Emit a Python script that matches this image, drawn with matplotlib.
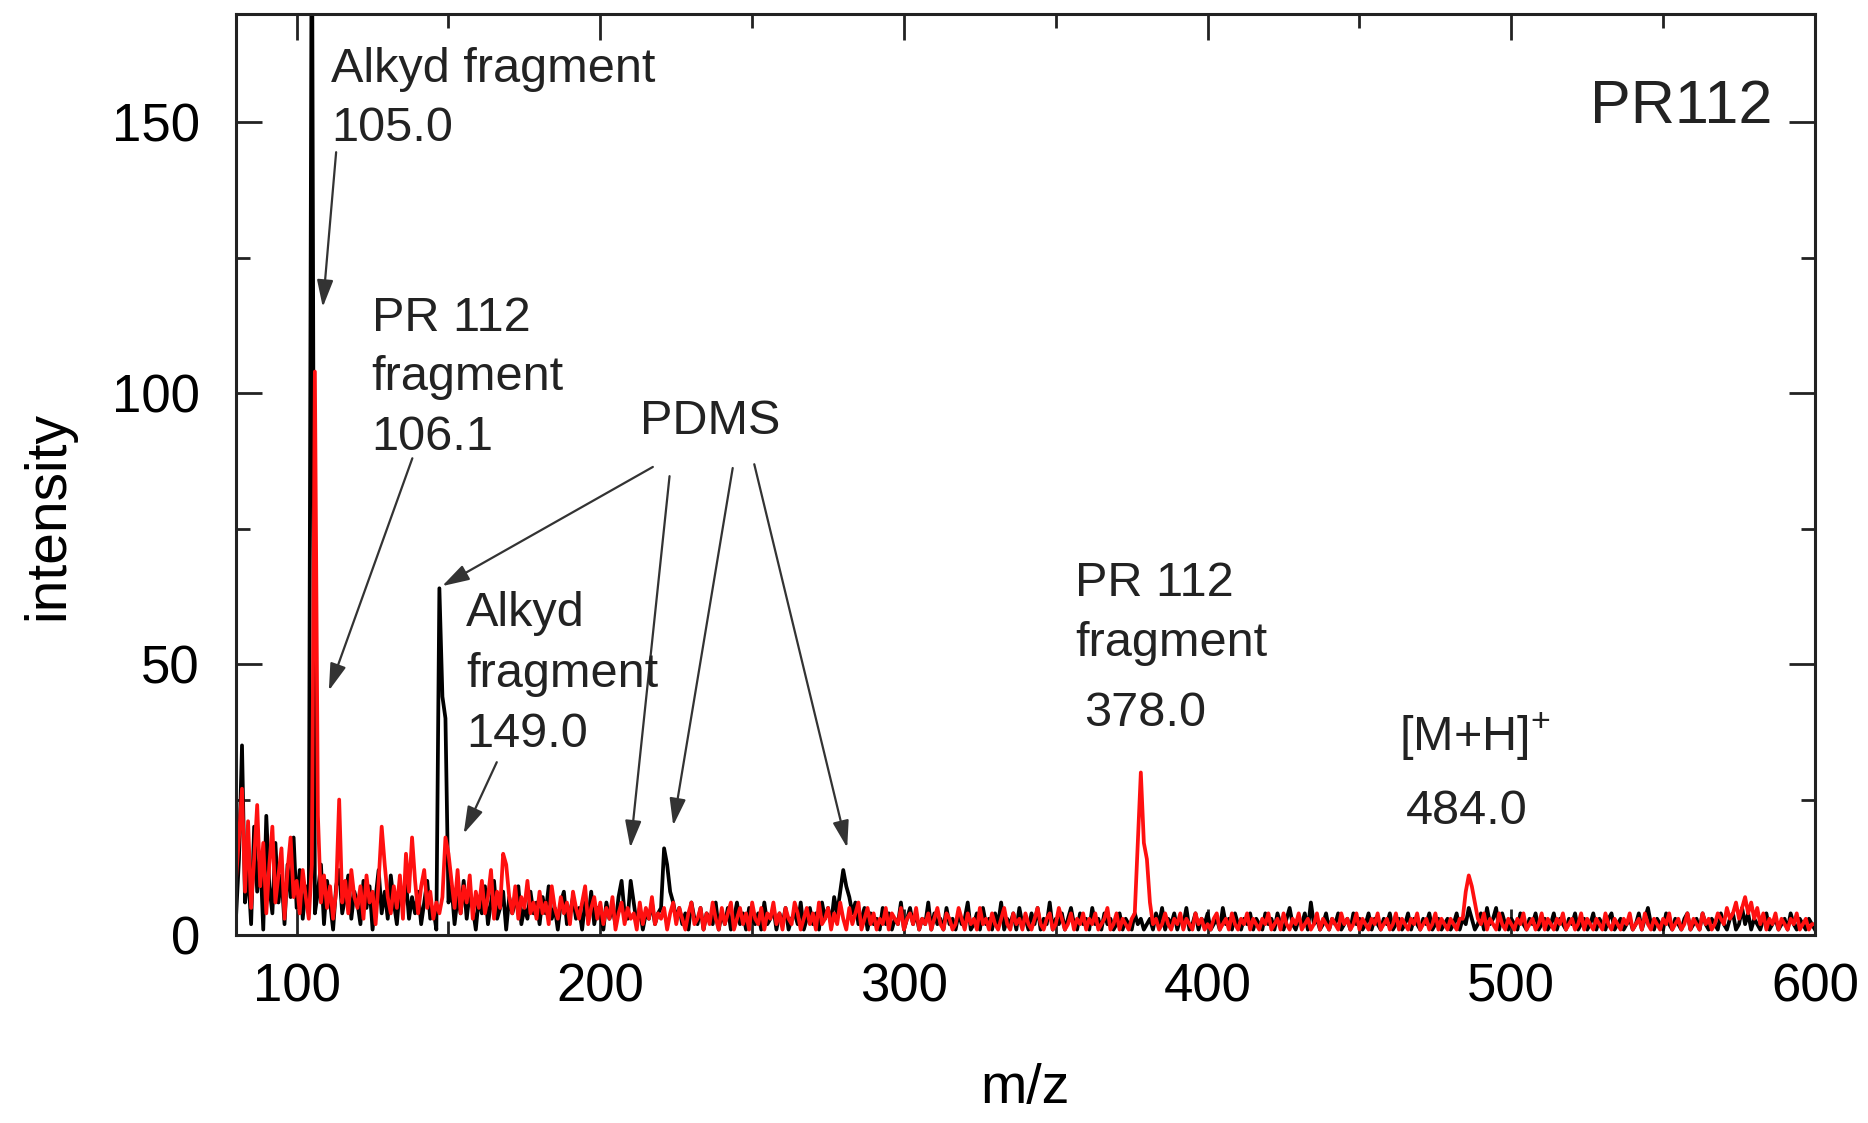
from matplotlib import pyplot as plt
from matplotlib.ticker import MultipleLocator
import matplotlib
import numpy as np

matplotlib.use("Agg")
matplotlib.rcParams.update({
    'font.family': ['Liberation Sans', 'DejaVu Sans'],
    'mathtext.fontset': 'custom',
    'mathtext.rm': 'Liberation Sans',
    'text.color': '#222222',
})

#m/z grid, one point per unit, 80..600
mz_start = 80
mz_stop = 600

#black spectrum (intensity per m/z unit)
black = [
    3, 14, 35, 6, 12, 2, 20, 8, 15, 1, 22, 9, 4, 17, 6, 11, 2, 13, 7, 18,
    5, 12, 3, 9, 6, 200, 4, 8, 13, 2, 10, 6, 1, 9, 12, 4, 7, 11, 3, 8,
    6, 2, 10, 5, 9, 1, 7, 12, 4, 8, 3, 11, 6, 2, 9, 5, 10, 3, 7, 4,
    8, 2, 6, 10, 3, 5, 1, 64, 44, 40, 6, 9, 2, 7, 4, 10, 3, 8, 5, 1,
    7, 4, 9, 2, 6, 10, 3, 5, 8, 1, 7, 4, 6, 9, 2, 5, 3, 8, 4, 6,
    2, 7, 4, 9, 3, 5, 1, 6, 8, 2, 4, 7, 3, 5, 1, 6, 3, 8, 2, 5,
    4, 1, 6, 3, 5, 2, 7, 10, 4, 3, 10, 6, 2, 5, 1, 4, 3, 6, 2, 4,
    5, 16, 13, 8, 6, 3, 5, 2, 4, 1, 6, 3, 2, 5, 1, 4, 3, 2, 6, 1,
    4, 2, 5, 1, 3, 6, 2, 4, 1, 5, 3, 2, 4, 1, 6, 2, 3, 5, 1, 4,
    2, 5, 1, 3, 4, 2, 6, 1, 3, 5, 2, 4, 1, 6, 3, 5, 2, 7, 4, 8,
    12, 9, 7, 4, 6, 2, 3, 5, 1, 4, 2, 3, 1, 5, 2, 4, 1, 3, 2, 6,
    1, 3, 5, 2, 4, 1, 3, 2, 6, 1, 4, 2, 3, 1, 5, 2, 3, 1, 4, 2,
    3, 6, 1, 2, 4, 1, 5, 2, 3, 1, 4, 2, 6, 1, 3, 2, 4, 1, 5, 2,
    3, 1, 4, 2, 5, 1, 3, 2, 6, 1, 3, 2, 4, 1, 3, 5, 2, 1, 4, 2,
    3, 1, 5, 2, 3, 1, 4, 2, 3, 1, 2, 4, 1, 3, 2, 1, 4, 2, 3, 1,
    2, 3, 1, 4, 2, 5, 1, 3, 2, 4, 1, 3, 2, 5, 1, 2, 4, 1, 3, 2,
    4, 1, 2, 3, 1, 5, 2, 3, 1, 4, 2, 1, 3, 2, 4, 1, 3, 2, 1, 4,
    2, 3, 1, 4, 2, 1, 3, 5, 2, 1, 3, 2, 4, 1, 6, 2, 3, 1, 2, 4,
    1, 3, 2, 4, 1, 2, 3, 1, 4, 2, 3, 1, 2, 4, 1, 3, 2, 1, 3, 2,
    4, 1, 2, 3, 1, 2, 4, 1, 3, 2, 1, 3, 2, 4, 1, 2, 3, 1, 2, 3,
    1, 2, 4, 1, 3, 2, 5, 3, 1, 2, 4, 1, 5, 2, 3, 5, 1, 4, 2, 1,
    3, 2, 1, 4, 2, 1, 3, 2, 4, 1, 2, 3, 1, 2, 4, 1, 3, 2, 1, 3,
    2, 4, 1, 2, 3, 1, 2, 4, 1, 3, 2, 1, 3, 4, 1, 2, 3, 1, 2, 3,
    1, 2, 4, 1, 3, 5, 2, 1, 3, 2, 1, 4, 2, 1, 3, 2, 1, 3, 4, 1,
    2, 3, 1, 4, 2, 1, 3, 2, 1, 4, 2, 1, 3, 4, 1, 2, 5, 2, 4, 1,
    3, 2, 1, 3, 4, 1, 2, 3, 1, 2, 3, 1, 4, 2, 1, 3, 2, 1, 3, 2,
    1,
]

#red spectrum
red = [
    10, 18, 27, 8, 21, 5, 14, 24, 9, 17, 4, 13, 20, 6, 11, 16, 3, 12, 18, 7,
    10, 4, 12, 7, 3, 13, 104, 22, 6, 11, 5, 9, 3, 8, 25, 6, 10, 4, 12, 7,
    5, 9, 3, 11, 6, 8, 2, 10, 20, 13, 7, 4, 9, 5, 11, 3, 15, 8, 18, 10,
    4, 9, 12, 5, 8, 3, 6, 4, 7, 18, 15, 10, 5, 12, 4, 9, 6, 11, 3, 8,
    5, 10, 4, 7, 12, 3, 8, 5, 15, 13, 7, 4, 9, 3, 7, 5, 10, 4, 6, 3,
    8, 4, 6, 2, 9, 5, 3, 7, 4, 6, 2, 8, 5, 3, 6, 9, 2, 5, 7, 3,
    6, 2, 5, 3, 7, 1, 4, 6, 2, 5, 3, 4, 1, 6, 2, 5, 3, 7, 2, 4,
    3, 5, 1, 4, 6, 2, 5, 3, 1, 4, 6, 2, 3, 5, 1, 4, 2, 6, 3, 1,
    5, 2, 4, 6, 1, 3, 5, 2, 4, 1, 6, 3, 2, 5, 1, 4, 3, 6, 2, 4,
    1, 5, 3, 2, 6, 4, 1, 3, 5, 2, 4, 1, 6, 2, 3, 5, 1, 4, 2, 6,
    3, 1, 5, 2, 4, 6, 1, 3, 5, 2, 4, 1, 3, 2, 5, 1, 4, 3, 2, 5,
    1, 3, 4, 2, 5, 1, 3, 2, 4, 1, 3, 5, 2, 1, 4, 3, 1, 2, 5, 3,
    1, 4, 2, 3, 1, 5, 2, 3, 1, 4, 2, 1, 3, 5, 2, 1, 4, 2, 3, 1,
    4, 2, 1, 3, 5, 2, 1, 3, 4, 1, 2, 5, 3, 1, 2, 4, 1, 3, 2, 4,
    1, 3, 2, 4, 1, 2, 3, 5, 1, 2, 4, 1, 3, 2, 1, 3, 4, 17, 30, 17,
    14, 6, 2, 3, 1, 2, 4, 2, 1, 3, 2, 4, 1, 3, 2, 1, 4, 2, 3, 1,
    2, 1, 3, 4, 1, 2, 3, 1, 4, 2, 1, 3, 2, 4, 1, 3, 2, 1, 3, 2,
    4, 1, 2, 3, 1, 4, 2, 1, 3, 2, 4, 1, 2, 3, 1, 2, 4, 1, 3, 2,
    1, 3, 2, 1, 4, 2, 3, 1, 2, 4, 1, 3, 2, 1, 3, 2, 4, 1, 2, 3,
    1, 2, 4, 1, 3, 2, 1, 3, 2, 4, 1, 2, 3, 1, 2, 4, 1, 3, 2, 1,
    3, 2, 1, 3, 3, 8, 11, 9, 6, 3, 2, 4, 1, 3, 2, 1, 4, 2, 1, 3,
    2, 1, 3, 2, 4, 1, 2, 3, 1, 2, 4, 1, 3, 2, 1, 3, 2, 4, 1, 2,
    3, 1, 2, 4, 1, 3, 2, 1, 3, 2, 1, 4, 2, 1, 3, 2, 1, 3, 2, 4,
    1, 2, 3, 1, 4, 2, 1, 3, 2, 1, 3, 2, 4, 1, 2, 3, 1, 2, 4, 1,
    3, 2, 1, 4, 2, 3, 1, 2, 4, 3, 2, 5, 3, 4, 6, 3, 5, 7, 4, 6,
    3, 5, 2, 4, 1, 3, 2, 4, 1, 3, 2, 1, 3, 2, 4, 1, 2, 3, 1, 2,
    2,
]

x_ticks = [100, 200, 300, 400, 500, 600]
y_ticks = [0, 50, 100, 150]

mz = np.arange(mz_start, mz_stop + 1)

fig = plt.figure(figsize=(18.68, 11.23), dpi=100)
ax = fig.add_axes([0.1263, 0.1674, 0.8453, 0.8201])

ax.plot(mz, black, color='black', lw=2.7)
ax.plot(mz, red, color='#ff1010', lw=2.7)

ax.set_xlim(80, 600)
ax.set_ylim(0, 170)
ax.set_xticks(x_ticks)
ax.set_yticks(y_ticks)
ax.xaxis.set_minor_locator(MultipleLocator(50))
ax.yaxis.set_minor_locator(MultipleLocator(25))
ax.tick_params(which='both', direction='in', top=True, right=True,
               width=2, color='#222222')
ax.tick_params(which='major', length=19, labelsize=38)
ax.tick_params(which='minor', length=10)
ax.tick_params(axis='x', pad=20)
ax.tick_params(axis='y', pad=26)
for s in ax.spines.values():
    s.set_linewidth(2.2)
    s.set_color('#222222')

ax.set_xlabel('m/z', fontsize=40, labelpad=36)
ax.set_ylabel('intensity', fontsize=41)
ax.yaxis.set_label_coords(-0.102, 0.455)

#annotations
tsize = 35
arrow = dict(arrowstyle='-|>,head_length=1.5,head_width=0.45', lw=1.6,
             color='#333333', shrinkA=0, shrinkB=0, mutation_scale=11)

ax.text(111.4, 164, 'Alkyd fragment\n105.0', fontsize=tsize, va='top', linespacing=1.4)
ax.annotate('', xy=(108.6, 115.9), xytext=(113.0, 144.5), arrowprops=arrow)

ax.text(124.7, 118, 'PR 112\nfragment\n106.1', fontsize=tsize, va='top', linespacing=1.42)
ax.annotate('', xy=(110.6, 45.1), xytext=(138.1, 88.0), arrowprops=arrow)

ax.text(213, 99, 'PDMS', fontsize=tsize, va='top')
ax.annotate('', xy=(147.9, 64.4), xytext=(217.3, 86.4), arrowprops=arrow)
ax.annotate('', xy=(209.9, 16.1), xytext=(222.8, 84.7), arrowprops=arrow)
ax.annotate('', xy=(224.0, 20.2), xytext=(243.6, 86.2), arrowprops=arrow)
ax.annotate('', xy=(281.3, 16.1), xytext=(250.7, 86.9), arrowprops=arrow)

ax.text(155.7, 63.5, 'Alkyd\nfragment\n149.0', fontsize=tsize, va='top', linespacing=1.45)
ax.annotate('', xy=(155.0, 18.7), xytext=(165.9, 31.9), arrowprops=arrow)

ax.text(356.3, 69, 'PR 112\nfragment', fontsize=tsize, va='top', linespacing=1.42)
ax.text(359.4, 45, '378.0', fontsize=tsize, va='top')

ax.text(463, 41.5, '[M+H]$^{+}$', fontsize=tsize, va='top')
ax.text(465.4, 27, '484.0', fontsize=tsize, va='top')

ax.text(525.8, 158, 'PR112', fontsize=44, va='top')

plt.savefig('out.png', dpi=100)
plt.close()
